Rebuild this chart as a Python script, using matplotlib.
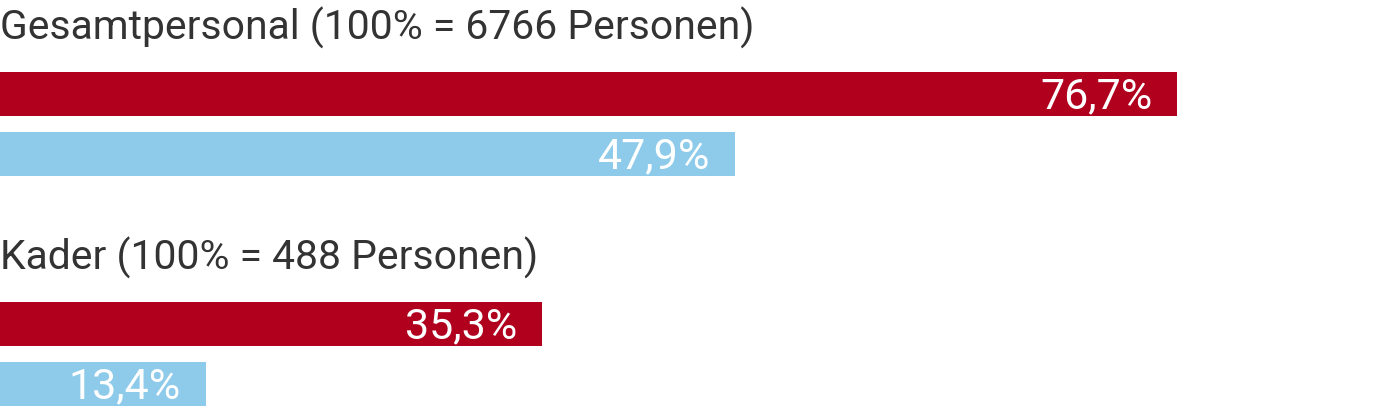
import matplotlib
matplotlib.use("Agg")
import matplotlib.pyplot as plt
from matplotlib import font_manager

groups = ["Gesamtpersonal (100% = 6766 Personen)", "Kader (100% = 488 Personen)"]
red_values = [76.7, 35.3]
blue_values = [47.9, 13.4]
labels_red = ["76,7%", "35,3%"]
labels_blue = ["47,9%", "13,4%"]

RED = "#b0001e"
BLUE = "#8ecbea"
TEXT = "#333333"

fam = "Roboto"

W, H = 1392, 416
fig = plt.figure(figsize=(W / 100, H / 100), dpi=100)
ax = fig.add_axes([0, 0, 1, 1])
ax.set_xlim(0, W / 15.35)
ax.set_ylim(H, 0)
ax.axis("off")

bar_h = 44
for i, g in enumerate(groups):
    y0 = i * 230
    ax.text(0, y0 + 40, g, fontsize=29.4, color=TEXT, family=fam, va="baseline", ha="left")
    yr = y0 + 94
    yb = y0 + 154
    ax.barh(yr, red_values[i], height=bar_h, color=RED)
    ax.barh(yb, blue_values[i], height=bar_h, color=BLUE)
    pad = 25 / 15.35
    ax.text(red_values[i] - pad, yr + 14, labels_red[i], fontsize=31, color="white",
            family=fam, ha="right", va="baseline")
    ax.text(blue_values[i] - pad, yb + 14, labels_blue[i], fontsize=31, color="white",
            family=fam, ha="right", va="baseline")

fig.savefig("out.png", dpi=100)
